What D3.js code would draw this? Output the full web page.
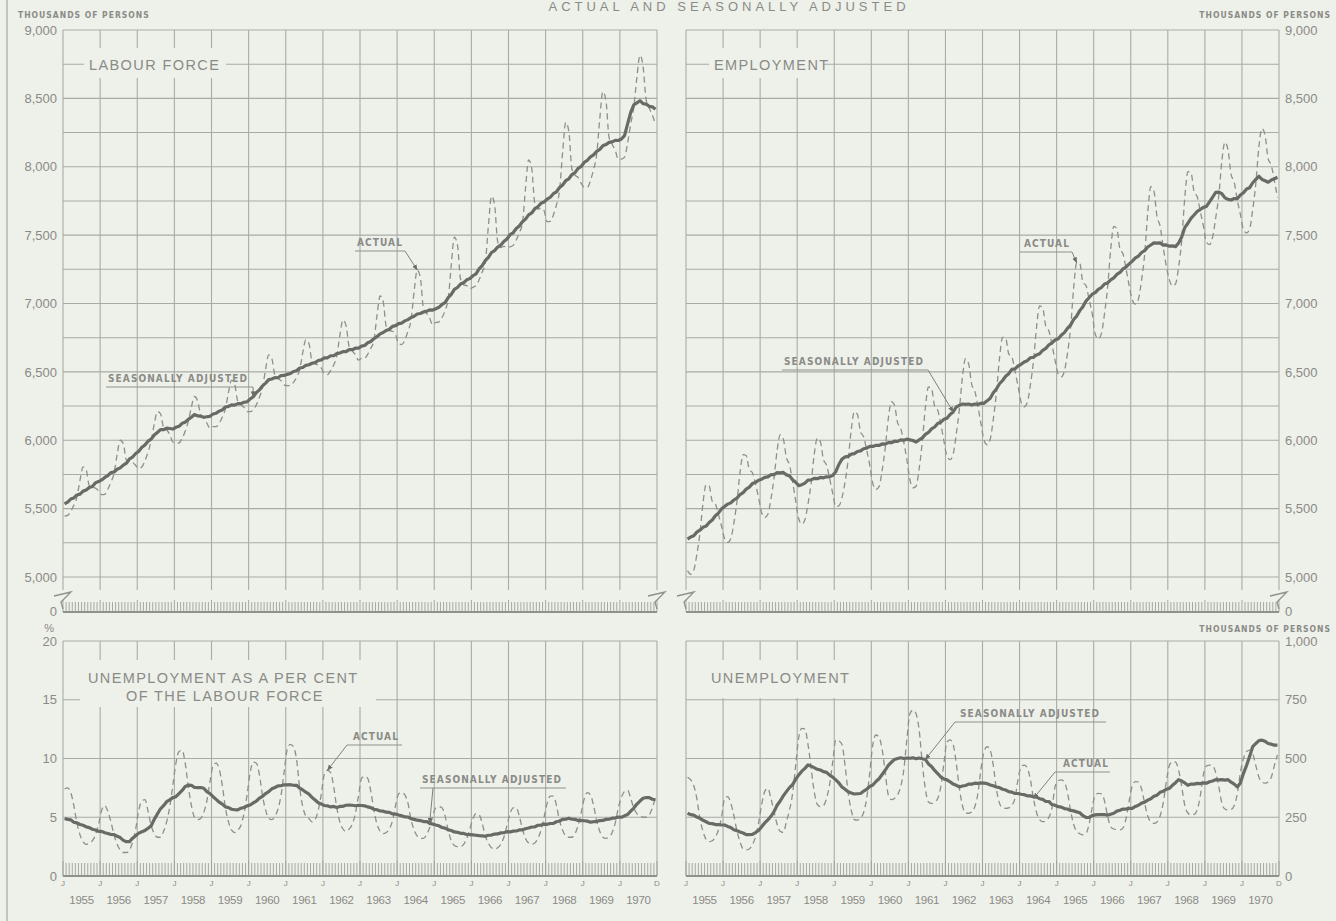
<!DOCTYPE html>
<html>
<head>
<meta charset="utf-8">
<script src="https://cdn.jsdelivr.net/npm/d3@7"></script>
<style>
body { margin: 0; background: #eef0ea; }
svg { display: block; }
text { font-family: "Liberation Sans", Arial, sans-serif; fill: #8a8b86; }
.grid { stroke: #a9aba6; stroke-width: 1.1; }
.tick-m { stroke: #9ea09b; stroke-width: 0.9; }
.note { font-family: "DejaVu Sans Condensed", "DejaVu Sans", sans-serif; font-size: 10px; font-weight: bold; letter-spacing: 1.1px; }
.ptitle { font-size: 14.5px; letter-spacing: 1.4px; }
.unit { font-family: "DejaVu Sans Condensed", "DejaVu Sans", sans-serif; font-size: 8.5px; font-weight: bold; letter-spacing: 1px; }
</style>
</head>
<body>
<svg width="1336" height="921"></svg>
<script>
// jaren en tick waarden
const years = d3.range(1955, 1971);
const lfTicks = [5000, 5500, 6000, 6500, 7000, 7500, 8000, 8500, 9000];
const pctTicks = [0, 5, 10, 15, 20];
const unTicks = [0, 250, 500, 750, 1000];

// labour force, duizenden, maandelijks 1955-1970
const lfActual = [
 5445,5450,5480,5525,5585,5709,5805,5784,5668,5656,5650,5630,
 5602,5605,5643,5694,5758,5895,6000,5975,5855,5850,5838,5816,
 5794,5805,5851,5913,5996,6118,6210,6195,6095,6077,6041,5987,
 5982,5980,6014,6066,6137,6244,6320,6288,6189,6163,6126,6087,
 6100,6100,6125,6170,6230,6352,6440,6408,6284,6261,6240,6210,
 6210,6220,6260,6315,6385,6522,6625,6598,6474,6451,6435,6405,
 6399,6400,6423,6460,6516,6640,6735,6707,6579,6560,6548,6527,
 6487,6480,6509,6551,6617,6769,6880,6838,6684,6653,6626,6587,
 6599,6600,6629,6673,6730,6914,7055,7014,6828,6801,6797,6773,
 6706,6700,6734,6797,6879,7089,7245,7190,6968,6929,6894,6843,
 6861,6865,6896,6949,7029,7282,7485,7428,7179,7136,7131,7108,
 7119,7130,7173,7230,7301,7568,7785,7722,7452,7409,7418,7412,
 7414,7425,7464,7518,7585,7843,8050,7989,7731,7690,7697,7678,
 7598,7600,7647,7721,7827,8107,8325,8259,7983,7938,7922,7879,
 7850,7850,7900,7980,8090,8350,8550,8485,8215,8165,8120,8055,
 8056,8070,8174,8312,8434,8654,8815,8733,8489,8428,8379,8308
];
const lfSA = [
 5535,5548,5570,5578,5600,5606,5628,5636,5655,5662,5690,5698,
 5710,5728,5742,5763,5768,5788,5798,5818,5832,5864,5877,5903,
 5920,5948,5966,5993,6008,6038,6057,6078,6077,6088,6086,6082,
 6095,6102,6124,6132,6153,6168,6188,6178,6176,6168,6172,6175,
 6192,6198,6213,6222,6243,6248,6258,6257,6268,6268,6278,6280,
 6302,6318,6348,6368,6398,6418,6443,6448,6458,6457,6473,6474,
 6482,6488,6503,6508,6528,6532,6548,6552,6563,6568,6583,6588,
 6602,6603,6618,6618,6633,6638,6648,6648,6663,6662,6673,6673,
 6688,6693,6713,6722,6743,6757,6778,6788,6803,6812,6833,6838,
 6853,6857,6873,6882,6898,6907,6923,6927,6938,6942,6953,6952,
 6962,6972,6993,7007,7043,7067,7103,7117,7143,7152,7173,7182,
 7203,7217,7253,7277,7313,7337,7373,7387,7413,7427,7453,7472,
 7503,7517,7548,7567,7598,7617,7648,7662,7693,7707,7733,7742,
 7763,7777,7803,7817,7848,7867,7898,7912,7943,7957,7988,8002,
 8033,8047,8073,8087,8113,8127,8153,8162,8178,8182,8193,8192,
 8203,8227,8313,8397,8453,8467,8483,8462,8458,8442,8438,8420
];

// employment, duizenden
const empActual = [
 5047,5020,5048,5163,5318,5540,5675,5665,5555,5535,5456,5373,
 5280,5253,5282,5394,5552,5765,5895,5888,5784,5763,5681,5580,
 5468,5435,5459,5571,5723,5925,6040,6010,5874,5820,5700,5559,
 5426,5387,5419,5534,5684,5894,6015,5989,5860,5818,5721,5612,
 5515,5520,5580,5695,5855,6077,6209,6189,6062,6026,5930,5817,
 5683,5640,5661,5778,5943,6158,6282,6257,6129,6089,5987,5861,
 5711,5652,5664,5794,5986,6238,6390,6377,6249,6219,6118,5996,
 5883,5858,5899,6044,6225,6461,6596,6560,6409,6361,6249,6121,
 6000,5967,6008,6154,6346,6598,6753,6747,6631,6609,6509,6397,
 6279,6245,6276,6405,6577,6829,6983,6968,6832,6799,6699,6584,
 6485,6463,6503,6634,6815,7112,7298,7293,7154,7131,7030,6929,
 6776,6742,6780,6925,7117,7394,7564,7547,7398,7362,7252,7129,
 7026,6996,7033,7170,7357,7664,7855,7822,7636,7567,7413,7275,
 7173,7129,7144,7267,7461,7776,7964,7957,7818,7782,7676,7570,
 7447,7431,7486,7625,7787,8043,8180,8123,7942,7887,7755,7651,
 7539,7516,7547,7689,7878,8149,8280,8228,8057,8011,7899,7776
];
const empSA = [
 5277,5293,5302,5328,5342,5363,5372,5398,5417,5448,5467,5498,
 5515,5533,5542,5563,5577,5603,5617,5643,5657,5683,5692,5708,
 5715,5728,5732,5748,5749,5763,5762,5765,5747,5740,5712,5693,
 5668,5675,5687,5708,5710,5721,5719,5728,5725,5733,5732,5743,
 5770,5823,5862,5878,5882,5898,5902,5918,5922,5938,5942,5955,
 5955,5963,5962,5973,5972,5983,5982,5993,5992,6003,6000,6008,
 6003,5998,5987,6003,6017,6043,6057,6083,6097,6123,6132,6153,
 6161,6188,6207,6243,6255,6265,6262,6265,6257,6265,6262,6271,
 6270,6288,6307,6348,6375,6413,6437,6468,6487,6518,6522,6543,
 6555,6573,6582,6603,6607,6623,6632,6658,6672,6698,6712,6733,
 6742,6768,6787,6818,6842,6883,6908,6948,6977,7018,7042,7068,
 7080,7103,7117,7143,7150,7173,7187,7213,7227,7253,7267,7290,
 7310,7333,7347,7373,7387,7413,7428,7443,7442,7443,7427,7428,
 7419,7421,7416,7443,7487,7555,7587,7623,7647,7673,7687,7703,
 7710,7743,7777,7813,7815,7803,7772,7761,7757,7768,7767,7793,
 7810,7838,7847,7883,7907,7930,7907,7898,7887,7903,7912,7923
];

// werkloosheid als % van de labour force
const urActual = [
 7.4,7.5,7.1,6.0,4.5,3.5,2.9,2.7,2.8,3.0,3.5,4.4,
 5.6,6.0,5.5,4.6,3.5,2.7,2.2,2.0,2.0,2.2,2.9,4.0,
 5.6,6.4,6.5,5.5,4.3,3.6,3.3,3.3,3.8,4.6,5.9,7.7,
 9.6,10.6,10.7,9.6,7.6,6.0,5.0,4.8,4.9,5.4,6.4,8.0,
 9.4,9.6,9.1,7.7,5.8,4.6,3.9,3.7,3.9,4.3,5.3,6.9,
 8.8,9.7,9.6,8.6,6.8,5.6,4.9,4.8,5.1,5.7,6.9,8.9,
 10.8,11.2,11.0,9.9,7.5,5.9,5.1,4.9,4.6,4.8,5.6,7.0,
 8.7,9.0,8.8,7.6,5.8,4.6,4.0,3.8,4.0,4.4,5.3,6.8,
 8.3,8.5,8.3,7.2,5.6,4.4,3.8,3.6,3.7,4.0,4.7,6.0,
 7.0,7.1,6.9,6.2,4.8,3.9,3.4,3.2,3.2,3.5,4.1,5.1,
 5.8,5.9,5.8,5.1,3.9,3.0,2.6,2.5,2.5,2.7,3.2,4.0,
 4.9,5.3,5.2,4.5,3.4,2.8,2.4,2.3,2.4,2.7,3.3,4.3,
 5.3,5.8,5.8,5.1,4.0,3.2,2.8,2.7,2.8,3.2,3.9,5.0,
 6.2,6.8,6.8,6.0,4.7,3.9,3.4,3.3,3.3,3.6,4.3,5.4,
 6.6,7.1,6.9,6.0,4.7,3.8,3.3,3.2,3.3,3.7,4.5,5.8,
 6.7,7.2,7.3,6.6,5.8,5.3,5.1,5.0,5.0,5.2,5.8,6.7
];
const urSA = [
 4.9,4.82,4.78,4.58,4.52,4.38,4.32,4.18,4.12,3.98,3.92,3.8,
 3.8,3.68,3.62,3.53,3.52,3.38,3.27,3.03,2.92,2.93,3.22,3.43,
 3.65,3.77,3.88,4.07,4.28,4.82,5.28,5.72,5.98,6.32,6.48,6.67,
 6.75,7.02,7.28,7.62,7.73,7.72,7.53,7.52,7.53,7.47,7.18,7.02,
 6.75,6.52,6.28,6.12,5.88,5.82,5.68,5.64,5.63,5.77,5.83,5.97,
 6.04,6.22,6.38,6.62,6.78,7.02,7.18,7.42,7.53,7.67,7.68,7.76,
 7.75,7.77,7.72,7.72,7.48,7.32,7.13,6.97,6.68,6.47,6.23,6.12,
 6.0,5.97,5.88,5.92,5.83,5.92,5.93,6.02,6.03,6.02,5.98,6.02,
 6.0,5.97,5.88,5.82,5.68,5.64,5.53,5.52,5.43,5.42,5.28,5.27,
 5.19,5.12,5.03,5.02,4.88,4.82,4.75,4.72,4.63,4.64,4.48,4.42,
 4.34,4.27,4.13,4.07,3.93,3.87,3.75,3.72,3.63,3.62,3.53,3.52,
 3.5,3.47,3.43,3.42,3.38,3.47,3.48,3.57,3.58,3.67,3.68,3.77,
 3.75,3.82,3.83,3.92,3.93,4.02,4.08,4.17,4.18,4.32,4.33,4.42,
 4.4,4.47,4.48,4.62,4.68,4.82,4.83,4.92,4.83,4.82,4.73,4.72,
 4.7,4.67,4.58,4.62,4.63,4.72,4.73,4.82,4.83,4.92,4.93,5.02,
 5.0,5.12,5.23,5.52,5.78,6.12,6.38,6.62,6.68,6.67,6.53,6.5
];

// werkloosheid, duizenden
const unActual = [
 420,410,385,330,245,190,156,146,150,165,196,250,
 330,338,310,257,192,145,115,111,115,133,166,225,
 305,360,373,330,275,220,190,185,230,280,350,470,
 590,628,625,560,460,360,305,295,300,330,390,485,
 579,575,560,470,355,280,240,238,245,270,330,440,
 560,600,590,540,440,345,325,330,345,380,450,580,
 690,706,690,620,480,370,315,309,315,330,380,480,
 570,579,560,480,375,300,268,267,272,295,350,455,
 530,550,535,470,370,310,290,288,290,300,330,410,
 465,472,460,410,330,270,240,231,235,250,290,380,
 405,409,400,355,280,220,190,180,175,180,220,290,
 345,352,350,320,255,210,200,198,196,205,245,320,
 385,402,400,370,310,255,230,224,230,255,310,400,
 470,487,485,450,380,300,268,260,262,280,340,430,
 468,472,470,440,380,310,285,281,283,300,350,440,
 500,530,536,520,470,420,400,395,400,420,470,515
];
const unSA = [
 267,261,259,251,246,237,231,224,223,219,219,217,
 217,211,206,197,193,187,183,176,176,177,185,194,
 210,226,239,254,274,301,319,341,359,376,389,411,
 430,446,458,473,467,461,454,451,444,441,429,421,
 409,396,379,369,358,353,349,350,351,361,369,381,
 387,402,414,432,450,471,484,496,500,503,500,502,
 501,503,499,502,499,496,477,466,449,436,421,413,
 409,401,391,386,379,383,385,391,391,395,394,396,
 395,393,387,384,379,376,369,366,359,357,351,351,
 348,346,341,341,337,336,329,326,317,317,304,301,
 295,293,287,285,279,277,273,269,257,249,249,257,
 260,261,261,261,259,263,267,276,280,285,285,288,
 288,296,301,310,314,323,329,339,344,356,361,369,
 373,386,397,410,404,396,386,391,391,394,393,396,
 395,401,404,410,409,410,408,410,399,391,379,396,
 437,471,509,551,564,576,578,573,564,561,557,557
];

const svg = d3.select("svg");
const months = d3.range(192).map(i => 1955 + (i + 0.5) / 12);

const xL = d3.scaleLinear().domain([1955, 1971]).range([63, 657]);
const xR = d3.scaleLinear().domain([1955, 1971]).range([686, 1279]);
const yTop = d3.scaleLinear().domain([5000, 9000]).range([577, 30]);
const yPct = d3.scaleLinear().domain([0, 20]).range([876, 641]);
const yUn = d3.scaleLinear().domain([0, 1000]).range([876, 641]);

// rand van de scan
svg.append("line").attr("x1", 7).attr("x2", 7).attr("y1", 0).attr("y2", 921)
  .attr("stroke", "#b4b6b1").attr("stroke-width", 1.5);

// titel bovenaan
svg.append("text").attr("x", 729).attr("y", 11).attr("text-anchor", "middle")
  .style("font-size", "13px").style("letter-spacing", "4px")
  .text("ACTUAL AND SEASONALLY ADJUSTED");

svg.append("defs").append("marker").attr("id", "arr")
  .attr("viewBox", "0 0 10 10").attr("refX", 9).attr("refY", 5)
  .attr("markerWidth", 6).attr("markerHeight", 6).attr("orient", "auto")
  .append("path").attr("d", "M0,1 L10,5 L0,9 Z").attr("fill", "#6b6d69");

function drawGrid(g, xs, ys, gridVals, vTop, vBot, stripTop, base) {
  const [x0, x1] = xs.range();
  g.selectAll(null).data(gridVals).join("line").attr("class", "grid")
    .attr("x1", x0).attr("x2", x1).attr("y1", d => ys(d)).attr("y2", d => ys(d));
  g.selectAll(null).data(d3.range(1955, 1972)).join("line").attr("class", "grid")
    .attr("x1", d => xs(d)).attr("x2", d => xs(d)).attr("y1", vTop).attr("y2", vBot);
  // maand streepjes
  g.selectAll(null).data(d3.range(193)).join("line").attr("class", "tick-m")
    .attr("x1", i => xs(1955 + i / 12)).attr("x2", i => xs(1955 + i / 12))
    .attr("y1", i => i % 12 === 0 ? stripTop - 2 : stripTop).attr("y2", base);
  g.append("line").attr("x1", x0).attr("x2", x1).attr("y1", base).attr("y2", base)
    .attr("stroke", "#8f918c").attr("stroke-width", 2);
}

function drawSeries(g, xs, ys, act, sa) {
  g.append("path").datum(act)
    .attr("d", d3.line().x((d, i) => xs(months[i])).y(d => ys(d)).curve(d3.curveMonotoneX))
    .attr("fill", "none").attr("stroke", "#8d8f8a").attr("stroke-width", 1.3)
    .attr("stroke-dasharray", "6,4");
  g.append("path").datum(sa)
    .attr("d", d3.line().x((d, i) => xs(months[i])).y(d => ys(d)))
    .attr("fill", "none").attr("stroke", "#686a66").attr("stroke-width", 3.2)
    .attr("stroke-linejoin", "round");
}

function breakMark(x) {
  svg.append("path")
    .attr("d", `M${x - 9},596 L${x + 8},592 L${x - 2},602 L${x},609`)
    .attr("fill", "none").attr("stroke", "#8f918c").attr("stroke-width", 1.3);
}

function titleBox(x, y, w, h) {
  svg.append("rect").attr("x", x).attr("y", y).attr("width", w).attr("height", h)
    .attr("fill", "#eef0ea");
}

function note(txt, tx, ty, u0, u1, from, to) {
  svg.append("text").attr("class", "note").attr("x", tx).attr("y", ty).text(txt);
  svg.append("line").attr("x1", u0).attr("x2", u1).attr("y1", ty + 5).attr("y2", ty + 5)
    .attr("stroke", "#8f918c").attr("stroke-width", 1);
  svg.append("line").attr("x1", from).attr("y1", ty + 5).attr("x2", to[0]).attr("y2", to[1])
    .attr("stroke", "#7e807b").attr("stroke-width", 1).attr("marker-end", "url(#arr)");
}

const pTL = svg.append("g"), pTR = svg.append("g"), pBL = svg.append("g"), pBR = svg.append("g");
drawGrid(pTL, xL, yTop, d3.range(5000, 9001, 250), 30, 590, 602, 612);
drawGrid(pTR, xR, yTop, d3.range(5000, 9001, 250), 30, 590, 602, 612);
drawGrid(pBL, xL, yPct, pctTicks, 641, 876, 863, 876);
drawGrid(pBR, xR, yUn, unTicks, 641, 876, 863, 876);

[xL(1955), xL(1971), xR(1955), xR(1971)].forEach(breakMark);

// titels van de panelen
titleBox(84, 48, 142, 30);
svg.append("text").attr("class", "ptitle").attr("x", 89).attr("y", 70).text("LABOUR FORCE");
titleBox(709, 48, 114, 30);
svg.append("text").attr("class", "ptitle").attr("x", 714).attr("y", 70).text("EMPLOYMENT");
titleBox(80, 660, 296, 47);
svg.append("text").attr("class", "ptitle").attr("x", 88).attr("y", 683).text("UNEMPLOYMENT AS A PER CENT");
svg.append("text").attr("class", "ptitle").attr("x", 126).attr("y", 701).text("OF THE LABOUR FORCE");
titleBox(705, 660, 145, 38);
svg.append("text").attr("class", "ptitle").attr("x", 711).attr("y", 683).text("UNEMPLOYMENT");

drawSeries(pTL, xL, yTop, lfActual, lfSA);
drawSeries(pTR, xR, yTop, empActual, empSA);
drawSeries(pBL, xL, yPct, urActual, urSA);
drawSeries(pBR, xR, yUn, unActual, unSA);

// assen
function styleAxis(g) {
  g.select(".domain").remove();
  g.selectAll("text").style("font-family", "Liberation Sans, Arial, sans-serif")
    .style("font-size", "13px").attr("fill", "#8a8b86");
}
svg.append("g").attr("transform", `translate(${xL(1955)},0)`)
  .call(d3.axisLeft(yTop).tickValues(lfTicks).tickSize(0).tickPadding(6).tickFormat(d3.format(",")))
  .call(styleAxis);
svg.append("g").attr("transform", `translate(${xR(1971)},0)`)
  .call(d3.axisRight(yTop).tickValues(lfTicks).tickSize(0).tickPadding(6).tickFormat(d3.format(",")))
  .call(styleAxis);
svg.append("g").attr("transform", `translate(${xL(1955)},0)`)
  .call(d3.axisLeft(yPct).tickValues(pctTicks).tickSize(0).tickPadding(6))
  .call(styleAxis);
svg.append("g").attr("transform", `translate(${xR(1971)},0)`)
  .call(d3.axisRight(yUn).tickValues(unTicks).tickSize(0).tickPadding(6).tickFormat(d3.format(",")))
  .call(styleAxis);

svg.append("text").attr("x", 57).attr("y", 616).attr("text-anchor", "end").style("font-size", "13px").text("0");
svg.append("text").attr("x", 1285).attr("y", 616).style("font-size", "13px").text("0");
svg.append("text").attr("x", 54).attr("y", 632).attr("text-anchor", "end").style("font-size", "11px").text("%");

svg.append("text").attr("class", "unit").attr("x", 18).attr("y", 18).text("THOUSANDS OF PERSONS");
svg.append("text").attr("class", "unit").attr("x", 1331).attr("y", 18).attr("text-anchor", "end").text("THOUSANDS OF PERSONS");
svg.append("text").attr("class", "unit").attr("x", 1331).attr("y", 632).attr("text-anchor", "end").text("THOUSANDS OF PERSONS");

// J / D en jaartallen onder de onderste panelen
[xL, xR].forEach(xs => {
  svg.selectAll(null).data(d3.range(1955, 1972)).join("text")
    .attr("x", d => xs(d)).attr("y", 886).attr("text-anchor", "middle")
    .style("font-size", "8px").text(d => d === 1971 ? "D" : "J");
  svg.selectAll(null).data(years).join("text")
    .attr("x", d => xs(d + 0.5)).attr("y", 904).attr("text-anchor", "middle")
    .style("font-size", "11.5px").style("letter-spacing", "-0.3px").text(d => d);
});

// aantekeningen
note("ACTUAL", 357, 246, 355, 405, 405, [xL(months[114]), yTop(lfActual[114])]);
note("SEASONALLY ADJUSTED", 108, 382, 106, 253, 253, [xL(months[61]), yTop(lfSA[61])]);
note("ACTUAL", 1024, 247, 1020, 1072, 1072, [xR(months[126]), yTop(empActual[126])]);
note("SEASONALLY ADJUSTED", 784, 365, 782, 928, 928, [xR(months[86]), yTop(empSA[86])]);
note("ACTUAL", 353, 740, 347, 402, 347, [xL(months[85]), yPct(urActual[85])]);
note("SEASONALLY ADJUSTED", 422, 783, 420, 566, 433, [xL(months[118]), yPct(urSA[118])]);
note("SEASONALLY ADJUSTED", 960, 717, 955, 1106, 955, [xR(months[77]), yUn(unSA[77])]);
note("ACTUAL", 1063, 767, 1055, 1110, 1055, [xR(months[112]), yUn(unActual[112])]);
</script>
</body>
</html>
